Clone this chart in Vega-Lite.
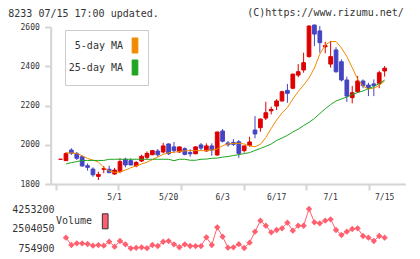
{
  "$schema": "https://vega.github.io/schema/vega-lite/v6.json",
  "width": 420,
  "height": 259,
  "autosize": "none",
  "padding": 0,
  "background": "white",
  "config": {"view": {"stroke": null}, "font": "DejaVu Sans Mono"},
  "title": {"text": "8233 07/15 17:00 updated.", "anchor": "start", "frame": "group", "font": "DejaVu Sans Mono", "fontSize": 10, "fontWeight": "normal", "color": "#333333", "dx": 8.3, "offset": 0, "baseline": "middle", "dy": 24},
  "datasets": {
    "px": [
      {"i":0,"o":1926,"h":1926,"l":1926,"c":1926},
      {"i":1,"o":1919,"h":1962,"l":1917,"c":1955,"v":1698500,"m5":1959,"m25":1902},
      {"i":2,"o":1973,"h":1982,"l":1948,"c":1957,"v":1048600,"m5":1958,"m25":1909},
      {"i":3,"o":1956,"h":1963,"l":1922,"c":1931,"v":1200000,"m5":1956,"m25":1914},
      {"i":4,"o":1939,"h":1944,"l":1888,"c":1892,"v":1190000,"m5":1944,"m25":1920},
      {"i":5,"o":1893,"h":1905,"l":1868,"c":1885,"v":1137700,"m5":1930,"m25":1920},
      {"i":6,"o":1876,"h":1885,"l":1837,"c":1847,"v":986300,"m5":1922,"m25":1920},
      {"i":7,"o":1839,"h":1863,"l":1820,"c":1849,"v":1040000,"m5":1912,"m25":1920},
      {"i":8,"o":1875,"h":1892,"l":1855,"c":1878,"v":990000,"m5":1885,"m25":1920},
      {"i":9,"o":1875,"h":1893,"l":1855,"c":1858,"v":1342400,"m5":1866,"m25":1926},
      {"i":10,"o":1851,"h":1882,"l":1846,"c":1871,"v":897300,"m5":1859,"m25":1926},
      {"i":11,"o":1863,"h":1932,"l":1855,"c":1914,"v":1404700,"m5":1861,"m25":1926},
      {"i":12,"o":1926,"h":1934,"l":1885,"c":1897,"v":1111000,"m5":1871,"m25":1926},
      {"i":13,"o":1919,"h":1931,"l":1895,"c":1897,"v":754900,"m5":1883,"m25":1926},
      {"i":14,"o":1892,"h":1916,"l":1885,"c":1910,"v":800000,"m5":1892,"m25":1926},
      {"i":15,"o":1917,"h":1949,"l":1912,"c":1941,"v":844000,"m5":1902,"m25":1926},
      {"i":16,"o":1936,"h":1966,"l":1926,"c":1956,"v":770000,"m5":1911,"m25":1926},
      {"i":17,"o":1949,"h":1973,"l":1947,"c":1970,"v":1050000,"m5":1924,"m25":1926},
      {"i":18,"o":1968,"h":1978,"l":1939,"c":1949,"v":959600,"m5":1938,"m25":1926},
      {"i":19,"o":1963,"h":2010,"l":1956,"c":1994,"v":1340000,"m5":1951,"m25":1926},
      {"i":20,"o":2004,"h":2007,"l":1948,"c":1954,"v":1400000,"m5":1959,"m25":1926},
      {"i":21,"o":1989,"h":2014,"l":1959,"c":1970,"v":1111000,"m5":1962,"m25":1919},
      {"i":22,"o":1963,"h":1992,"l":1959,"c":1989,"v":850000,"m5":1966,"m25":1926},
      {"i":23,"o":1980,"h":1987,"l":1946,"c":1951,"v":1105000,"m5":1969,"m25":1926},
      {"i":24,"o":1960,"h":1978,"l":1939,"c":1954,"v":960000,"m5":1970,"m25":1921},
      {"i":25,"o":1954,"h":1992,"l":1952,"c":1989,"v":950000,"m5":1970,"m25":1921},
      {"i":26,"o":1999,"h":2009,"l":1973,"c":1983,"v":955000,"m5":1970,"m25":1926},
      {"i":27,"o":1968,"h":2007,"l":1966,"c":1994,"v":1734100,"m5":1971,"m25":1927},
      {"i":28,"o":1994,"h":2007,"l":1944,"c":1973,"v":1048600,"m5":1973,"m25":1931},
      {"i":29,"o":1948,"h":2066,"l":1943,"c":2065,"v":2624200,"m5":1978,"m25":1932},
      {"i":30,"o":2070,"h":2080,"l":2012,"c":2018,"v":1787500,"m5":1995,"m25":1937},
      {"i":31,"o":2009,"h":2019,"l":1990,"c":2000,"v":808300,"m5":2004,"m25":1940},
      {"i":32,"o":2012,"h":2029,"l":1994,"c":2002,"v":840000,"m5":2007,"m25":1945},
      {"i":33,"o":2015,"h":2024,"l":1934,"c":1956,"v":1120000,"m5":2007,"m25":1950},
      {"i":34,"o":1970,"h":1996,"l":1960,"c":1994,"v":780000,"m5":2004,"m25":1955},
      {"i":35,"o":1997,"h":2041,"l":1990,"c":2014,"v":1253400,"m5":1994,"m25":1960},
      {"i":36,"o":2075,"h":2146,"l":2033,"c":2055,"v":2232500,"m5":1990,"m25":1971},
      {"i":37,"o":2087,"h":2133,"l":2066,"c":2131,"v":3211700,"m5":2002,"m25":1981},
      {"i":38,"o":2136,"h":2219,"l":2126,"c":2163,"v":2766600,"m5":2037,"m25":1992},
      {"i":39,"o":2173,"h":2194,"l":2155,"c":2180,"v":2179100,"m5":2083,"m25":2004},
      {"i":40,"o":2197,"h":2232,"l":2177,"c":2223,"v":2383900,"m5":2126,"m25":2022},
      {"i":41,"o":2223,"h":2275,"l":2220,"c":2270,"v":2535200,"m5":2162,"m25":2034},
      {"i":42,"o":2277,"h":2310,"l":2214,"c":2262,"v":3033700,"m5":2190,"m25":2048},
      {"i":43,"o":2288,"h":2362,"l":2283,"c":2360,"v":2321600,"m5":2233,"m25":2065},
      {"i":44,"o":2355,"h":2411,"l":2344,"c":2372,"v":2766600,"m5":2271,"m25":2079},
      {"i":45,"o":2381,"h":2469,"l":2367,"c":2418,"v":2760000,"m5":2304,"m25":2098},
      {"i":46,"o":2449,"h":2608,"l":2444,"c":2605,"v":4253200,"m5":2340,"m25":2114},
      {"i":47,"o":2610,"h":2612,"l":2503,"c":2564,"v":3069300,"m5":2391,"m25":2134},
      {"i":48,"o":2580,"h":2605,"l":2469,"c":2520,"v":2980300,"m5":2462,"m25":2159},
      {"i":49,"o":2499,"h":2525,"l":2466,"c":2505,"v":3211700,"m5":2508,"m25":2183},
      {"i":50,"o":2411,"h":2529,"l":2393,"c":2449,"v":3336300,"m5":2526,"m25":2205},
      {"i":51,"o":2483,"h":2497,"l":2367,"c":2372,"v":2383900,"m5":2526,"m25":2223},
      {"i":52,"o":2423,"h":2435,"l":2323,"c":2330,"v":1938800,"m5":2493,"m25":2233},
      {"i":53,"o":2330,"h":2347,"l":2219,"c":2248,"v":2232500,"m5":2450,"m25":2243},
      {"i":54,"o":2240,"h":2300,"l":2211,"c":2265,"v":2472900,"m5":2393,"m25":2256},
      {"i":55,"o":2270,"h":2350,"l":2265,"c":2325,"v":2535200,"m5":2334,"m25":2266},
      {"i":56,"o":2325,"h":2333,"l":2288,"c":2301,"v":1849800,"m5":2299,"m25":2274},
      {"i":57,"o":2304,"h":2316,"l":2248,"c":2291,"v":1698500,"m5":2284,"m25":2286},
      {"i":58,"o":2310,"h":2333,"l":2248,"c":2301,"v":1404700,"m5":2288,"m25":2297},
      {"i":59,"o":2313,"h":2377,"l":2288,"c":2367,"v":1849800,"m5":2302,"m25":2312},
      {"i":60,"o":2376,"h":2401,"l":2347,"c":2390,"v":1698500,"m5":2325,"m25":2330}
    ],
    "days": [
      {"i":10,"d":"5/1"},
      {"i":20,"d":"5/20"},
      {"i":30,"d":"6/3"},
      {"i":40,"d":"6/17"},
      {"i":50,"d":"7/1"},
      {"i":60,"d":"7/15"}
    ]
  },
  "resolve": {"scale": {"y": "independent"}},
  "layer": [
    {
      "data": {"name": "px"},
      "layer": [
        {
          "mark": {"type": "rule", "strokeWidth": 1},
          "encoding": {
            "x": {
              "field": "i",
              "type": "quantitative",
              "scale": {"domain": [-0.9, 62.9], "range": [50.7, 405.3], "nice": false, "zero": false},
              "axis": {
                "orient": "bottom", "offset": -75, "title": null, "labels": false, "grid": false,
                "values": [-0.9, 4.9, 10.7, 16.5, 22.3, 28.1, 33.9, 39.7, 45.5, 51.3, 57.1, 62.9],
                "domainColor": "#d4d4d4", "domainWidth": 2, "tickColor": "#d4d4d4", "tickWidth": 2, "tickSize": 6
              }
            },
            "y": {
              "field": "l", "type": "quantitative",
              "scale": {"domain": [1800, 2600], "range": [184, 27], "nice": false, "zero": false},
              "axis": {
                "orient": "left", "offset": -50.7, "title": null, "grid": false,
                "values": [1800, 2000, 2200, 2400, 2600], "format": "d",
                "domainColor": "#d4d4d4", "domainWidth": 2, "tickColor": "#d4d4d4", "tickWidth": 2, "tickSize": 6,
                "labelPadding": 5.4, "labelFont": "DejaVu Sans Mono", "labelFontSize": 8, "labelColor": "#333333"
              }
            },
            "y2": {"field": "h"},
            "color": {"condition": {"test": "datum.c >= datum.o", "value": "#dd0000"}, "value": "#4444c4"}
          }
        },
        {
          "mark": {"type": "bar", "width": 3.7, "strokeWidth": 1},
          "encoding": {
            "x": {"field": "i", "type": "quantitative"},
            "y": {"field": "o", "type": "quantitative"},
            "y2": {"field": "c"},
            "fill": {"condition": {"test": "datum.c >= datum.o", "value": "#dd0000"}, "value": "#4444c4"},
            "stroke": {"condition": {"test": "datum.c >= datum.o", "value": "#dd0000"}, "value": "#4444c4"}
          }
        },
        {
          "transform": [
            {"fold": ["m5", "m25"], "as": ["ma", "val"]},
            {"filter": "isValid(datum.val)"}
          ],
          "mark": {"type": "line", "strokeWidth": 1},
          "encoding": {
            "x": {"field": "i", "type": "quantitative"},
            "y": {"field": "val", "type": "quantitative"},
            "color": {
              "field": "ma", "type": "nominal",
              "scale": {"domain": ["m5", "m25"], "range": ["#f28a00", "#1fa51f"]},
              "legend": {
                "orient": "none", "legendX": 65, "legendY": 30, "title": null,
                "padding": 7.5, "fillColor": "white", "strokeColor": "#cccccc",
                "symbolType": "M-0.38,-1H0.38V1H-0.38Z", "symbolSize": 225,
                "symbolStrokeColor": "#333333", "symbolStrokeWidth": 1,
                "symbolOffset": 54.5, "labelAlign": "right", "labelOffset": -20,
                "labelFont": "DejaVu Sans Mono", "labelFontSize": 10, "labelColor": "#333333",
                "rowPadding": 2,
                "labelExpr": "datum.value == 'm5' ? '5-day MA' : '25-day MA'",
                "encode": {"symbols": {"update": {"fill": {"scale": "color", "field": "value"}, "stroke": {"value": "#333333"}, "strokeWidth": {"value": 1}, "opacity": {"value": 1}}}}
              }
            }
          }
        },
        {
          "data": {"name": "days"},
          "mark": {"type": "text", "fontSize": 8, "color": "#333333", "dy": 14, "baseline": "middle", "align": "center"},
          "encoding": {
            "x": {"field": "i", "type": "quantitative"},
            "y": {"datum": 1800, "type": "quantitative"},
            "text": {"field": "d", "type": "nominal"}
          }
        },
        {
          "data": {"values": [{"t": "(C)https://www.rizumu.net/"}]},
          "mark": {"type": "text", "fontSize": 10, "color": "#333333", "align": "right", "baseline": "middle"},
          "encoding": {
            "x": {"datum": 63.55, "type": "quantitative"},
            "y": {"datum": 2671, "type": "quantitative"},
            "text": {"field": "t", "type": "nominal"}
          }
        }
      ]
    },
    {
      "data": {"name": "px"},
      "transform": [{"filter": "isValid(datum.v)"}],
      "encoding": {
        "x": {"field": "i", "type": "quantitative"},
        "y": {
          "field": "v", "type": "quantitative",
          "scale": {"domain": [754900, 4253200], "range": [248.3, 209], "nice": false, "zero": false},
          "axis": {
            "orient": "left", "offset": -56, "title": null, "grid": false, "domain": false,
            "ticks": false, "tickSize": 0, "labelPadding": 2,
            "values": [754900, 2504050, 4253200], "format": "d",
            "labelFont": "DejaVu Sans Mono", "labelFontSize": 10, "labelColor": "#333333"
          }
        }
      },
      "layer": [
        {"mark": {"type": "line", "color": "#ff6070", "strokeWidth": 1}},
        {
          "mark": {"type": "point", "shape": "diamond", "filled": true, "size": 40, "opacity": 1},
          "encoding": {
            "fill": {
              "datum": "Volume", "type": "nominal",
              "scale": {"range": ["#ff6070"]},
              "legend": {
                "orient": "none", "legendX": 55, "legendY": 213.3, "title": null, "padding": 0,
                "symbolType": "M-0.38,-1H0.38V1H-0.38Z", "symbolSize": 225,
                "symbolStrokeColor": "#333333", "symbolStrokeWidth": 1,
                "symbolOffset": 42.2, "labelAlign": "right", "labelOffset": -21.2,
                "labelFont": "DejaVu Sans Mono", "labelFontSize": 10, "labelColor": "#333333",
                "encode": {"symbols": {"update": {"stroke": {"value": "#333333"}, "strokeWidth": {"value": 1}, "opacity": {"value": 1}}}}
              }
            }
          }
        }
      ]
    }
  ]
}
